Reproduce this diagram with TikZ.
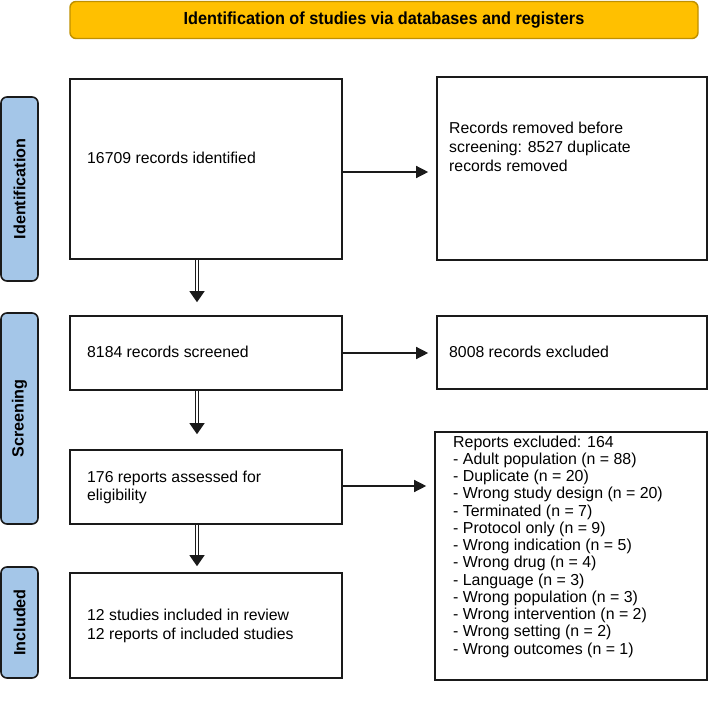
\documentclass[tikz,border=0pt]{standalone}
\usepackage{fontspec}
\setmainfont{Liberation Sans}
\usetikzlibrary{arrows.meta}
\definecolor{gold}{HTML}{FFC000}
\definecolor{goldborder}{HTML}{BF9000}
\definecolor{sideblue}{HTML}{A4C6E8}
\definecolor{edge}{HTML}{1A1A1A}
\begin{document}
\begin{tikzpicture}[x=1pt,y=-1pt,
  box/.style={draw=edge, line width=1.6pt, inner sep=0pt},
  txt/.style={anchor=west, align=left, inner sep=0pt, font=\fontsize{15.8}{18.8}\selectfont},
  side/.style={draw=edge, fill=sideblue, line width=1.6pt, rounded corners=6pt, rotate=90,
     minimum height=37pt, inner sep=0pt, font=\fontsize{16.2}{18}\selectfont\bfseries},
  rarrow/.style={line width=1.3pt, draw=edge, -{Triangle[length=12pt,width=12pt]}, shorten >=8pt},
  darrow/.style={double=white, draw=edge, double distance=2.4pt, line width=1.1pt,
     -{Triangle[length=11pt,width=15pt]}}
]
\useasboundingbox (0,0) rectangle (710,703);
% banner
\node[draw=goldborder, fill=gold, line width=1.4pt, rounded corners=6pt,
  minimum width=628pt, minimum height=37pt, inner sep=0pt,
  font=\fontsize{17.5}{19}\selectfont\bfseries] (banner) at (384,20)
  {\scalebox{0.93}[1]{Identification of studies via databases and registers}};
% side labels
\node[side, minimum width=184pt] (sid) at (19.5,189) {Identification};
\node[side, minimum width=211pt] (sscr) at (19.5,418.5) {Screening};
\node[side, minimum width=111pt] (sinc) at (19.5,622.5) {Included};
% boxes
\node[box, minimum width=272pt, minimum height=180pt] (A) at (206,169) {};
\node[box, minimum width=270pt, minimum height=183pt] (B) at (572,168.5) {};
\node[box, minimum width=272pt, minimum height=74pt] (C) at (206,353) {};
\node[box, minimum width=270pt, minimum height=73pt] (D) at (572,352.5) {};
\node[box, minimum width=272pt, minimum height=74pt] (E) at (206,487) {};
\node[box, minimum width=272pt, minimum height=248pt] (F) at (571,556) {};
\node[box, minimum width=272pt, minimum height=105pt] (G) at (206,625.5) {};
% texts
\node[txt] (tA) at (87,158) {16709 records identified};
\node[txt] (tB) at (449,147) {Records removed before\\screening: 8527 duplicate\\records removed};
\node[txt] (tC) at (87,352) {8184 records screened};
\node[txt] (tD) at (449,352) {8008 records excluded};
\node[txt] (tE) at (87,487.5) {176 reports assessed for\\eligibility};
\node[txt, font=\fontsize{15.9}{17.25}\selectfont] (tF) at (453,546.5) {Reports excluded: 164\\
- Adult population (n = 88)\\
- Duplicate (n = 20)\\
- Wrong study design (n = 20)\\
- Terminated (n = 7)\\
- Protocol only (n = 9)\\
- Wrong indication (n = 5)\\
- Wrong drug (n = 4)\\
- Language (n = 3)\\
- Wrong population (n = 3)\\
- Wrong intervention (n = 2)\\
- Wrong setting (n = 2)\\
- Wrong outcomes (n = 1)};
\node[txt] (tG) at (87,626) {12 studies included in review\\12 reports of included studies};
% connectors
\draw[rarrow] ([yshift=-3pt]A.east) -- ([yshift=-3pt]A.east -| B.west);
\draw[rarrow] (C.east) -- (C.east -| D.west);
\draw[rarrow] ([yshift=1pt]E.east) -- ([yshift=1pt]E.east -| F.west);
\draw[darrow, shorten >=13pt] ([xshift=-9pt]A.south) -- ([xshift=-9pt]C.north);
\draw[darrow, shorten >=15pt] ([xshift=-9pt]C.south) -- ([xshift=-9pt]E.north);
\draw[darrow, shorten >=6pt] ([xshift=-9pt]E.south) -- ([xshift=-9pt]G.north);
\end{tikzpicture}
\end{document}
